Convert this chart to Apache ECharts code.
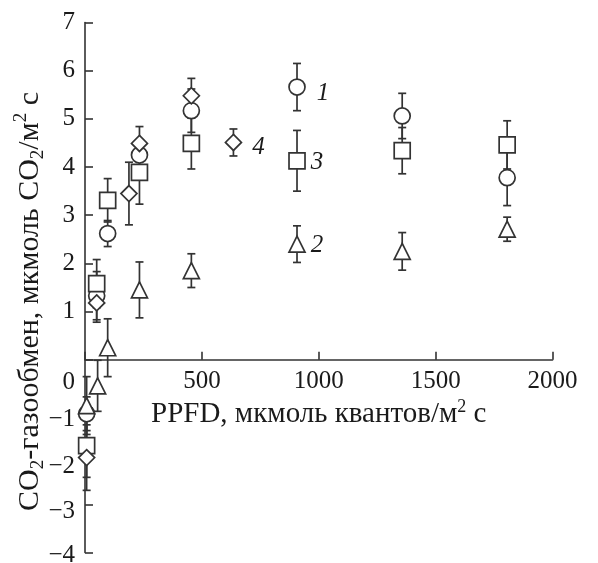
<!DOCTYPE html>
<html>
<head>
<meta charset="utf-8">
<script src="https://cdn.jsdelivr.net/npm/echarts@6/dist/echarts.min.js"></script>
<style>
html,body{margin:0;padding:0;background:#fff;}
#chart{width:598px;height:563px;}
</style>
</head>
<body>
<div id="chart"></div>
<script>
// ---- data ----
// series 1 (circles)
const s1X = [7, 50, 97, 233, 455, 907, 1357, 1806];
const s1Y = [-1.12, 1.33, 2.62, 4.25, 5.17, 5.66, 5.06, 3.78];
const s1E = [0.35, 0.5, 0.27, 0.3, 0.45, 0.49, 0.47, 0.58];
// series 2 (triangles)
const s2X = [7, 54, 97, 233, 455, 907, 1357, 1806];
const s2Y = [-0.95, -0.54, 0.25, 1.45, 1.85, 2.40, 2.25, 2.71];
const s2E = [0.6, 0.53, 0.6, 0.58, 0.35, 0.38, 0.39, 0.25];
// series 3 (squares)
const s3X = [7, 50, 97, 233, 455, 907, 1357, 1806];
const s3Y = [-1.78, 1.58, 3.31, 3.89, 4.49, 4.13, 4.34, 4.46];
const s3E = [0.66, 0.5, 0.45, 0.66, 0.53, 0.63, 0.48, 0.5];
// series 4 (diamonds)
const s4X = [7, 50, 188, 233, 455, 635];
const s4Y = [-2.03, 1.18, 3.45, 4.49, 5.48, 4.51];
const s4E = [0.68, 0.4, 0.65, 0.35, 0.36, 0.28];

const seriesNames = ['1', '2', '3', '4'];
const seriesSymbols = ['circle', 'triangle', 'rect', 'diamond'];
// x value of the point next to which each series number is written
const labelAtX = [907, 907, 907, 635];

const xTicks = [0, 500, 1000, 1500, 2000];
const yTicks = [-4, -3, -2, -1, 0, 1, 2, 3, 4, 5, 6, 7];

// ---- styling ----
const INK = '#333';
const TXT = '#1a1a1a';
const FONT = '"Liberation Serif", "Times New Roman", "DejaVu Serif", serif';
const FS = 25;
const FSX = 29;  // x axis title
const FSY = 30;  // y axis title

const W = 598, H = 563;
const G = {left: 85, right: 45.5, top: 22.5, bottom: 10.5};
const yMin = yTicks[0], yMax = yTicks[yTicks.length - 1];
// the x axis sits where y = 0 : bottom edge of a helper grid
const zeroFromBottom = G.bottom + (0 - yMin) / (yMax - yMin) * (H - G.top - G.bottom);

const all = [
  [s1X, s1Y, s1E], [s2X, s2Y, s2E], [s3X, s3Y, s3E], [s4X, s4Y, s4E]
];
const labelStyle = [
  {distance: 11, offset: [0, 6]},
  {distance: 5, offset: [0, 1]},
  {distance: 5, offset: [0, 2]},
  {distance: 10, offset: [0, 5]}
];

const series = [];
all.forEach(function (s, i) {
  const xs = s[0], ys = s[1], es = s[2];
  const errData = xs.map(function (x, k) { return [x, ys[k] - es[k], ys[k] + es[k]]; });
  series.push({
    type: 'custom',
    name: 'err' + seriesNames[i],
    z: 2,
    silent: true,
    data: errData,
    encode: {x: 0, y: [1, 2]},
    renderItem: function (params, api) {
      const x = api.value(0);
      const lo = api.coord([x, api.value(1)]);
      const hi = api.coord([x, api.value(2)]);
      const w = 4;
      const st = {stroke: INK, lineWidth: 1.7};
      return {
        type: 'group',
        children: [
          {type: 'line', shape: {x1: lo[0], y1: lo[1], x2: hi[0], y2: hi[1]}, style: st},
          {type: 'line', shape: {x1: lo[0] - w, y1: lo[1], x2: lo[0] + w, y2: lo[1]}, style: st},
          {type: 'line', shape: {x1: hi[0] - w, y1: hi[1], x2: hi[0] + w, y2: hi[1]}, style: st}
        ]
      };
    }
  });
  const pts = xs.map(function (x, k) {
    const item = {value: [x, ys[k]]};
    if (x === labelAtX[i]) {
      item.label = {
        show: true,
        formatter: seriesNames[i],
        position: 'right',
        distance: labelStyle[i].distance,
        offset: labelStyle[i].offset,
        fontFamily: FONT,
        fontStyle: 'italic',
        fontSize: FS,
        color: TXT
      };
    }
    return item;
  });
  series.push({
    type: 'scatter',
    name: seriesNames[i],
    z: 3,
    symbol: seriesSymbols[i],
    symbolSize: 16,
    itemStyle: {color: '#fff', borderColor: INK, borderWidth: 1.7, opacity: 1},
    data: pts
  });
});

const chart = echarts.init(document.getElementById('chart'), null, {renderer: 'canvas'});
chart.setOption({
  animation: false,
  backgroundColor: '#fff',
  grid: [
    {left: G.left, right: G.right, top: G.top, bottom: G.bottom, containLabel: false, outerBoundsMode: 'none'},
    {left: G.left, right: G.right, top: G.top, bottom: zeroFromBottom, containLabel: false, outerBoundsMode: 'none'}
  ],
  xAxis: [{
    gridIndex: 0,
    type: 'value',
    min: xTicks[0], max: xTicks[xTicks.length - 1], interval: 500,
    splitLine: {show: false},
    axisLine: {show: false},
    axisTick: {show: false},
    axisLabel: {show: false}
  }, {
    gridIndex: 1,
    type: 'value',
    position: 'bottom',
    min: xTicks[0], max: xTicks[xTicks.length - 1], interval: 500,
    splitLine: {show: false},
    axisLine: {onZero: false, lineStyle: {color: INK, width: 1.6}},
    axisTick: {inside: true, length: 8, lineStyle: {color: INK, width: 1.6}},
    axisLabel: {
      margin: 9, fontFamily: FONT, fontSize: FS, color: TXT,
      formatter: function (v) { return v === 0 ? '' : String(v); }
    },
    name: '{a|PPFD, мкмоль квантов/м}{sup|2}{a| с}',
    nameLocation: 'middle',
    nameGap: 38,
    nameMoveOverlap: false,
    nameTextStyle: {
      rich: {
        a: {fontFamily: FONT, fontSize: FSX, color: TXT, lineHeight: 34},
        sup: {fontFamily: FONT, fontSize: 18, color: TXT, verticalAlign: 'top', lineHeight: 20}
      }
    }
  }],
  yAxis: [{
    gridIndex: 0,
    type: 'value',
    min: yMin, max: yMax, interval: 1,
    splitLine: {show: false},
    axisLine: {lineStyle: {color: INK, width: 1.6}},
    axisTick: {inside: true, length: 8, lineStyle: {color: INK, width: 1.6}},
    axisLabel: {
      margin: 10, fontFamily: FONT, fontSize: FS, color: TXT,
      formatter: function (v) {
        if (v === 0) return '{z|0}';
        if (v < 0) return '{n' + (-v) + '|\u2212' + (-v) + '}';
        return String(v);
      },
      rich: {
        z: {fontFamily: FONT, fontSize: FS, color: TXT, padding: [46, 0, 0, 0]},
        n1: {fontFamily: FONT, fontSize: FS, color: TXT, padding: [22, 0, 0, 0]},
        n2: {fontFamily: FONT, fontSize: FS, color: TXT, padding: [20, 0, 0, 0]},
        n3: {fontFamily: FONT, fontSize: FS, color: TXT, padding: [14, 0, 0, 0]},
        n4: {fontFamily: FONT, fontSize: FS, color: TXT, padding: [6, 0, 0, 0]}
      }
    },
    name: '{a|CO}{sub|2}{a|-газообмен, мкмоль CO}{sub|2}{a|/м}{sup|2}{a| с}',
    nameLocation: 'middle',
    nameGap: 37,
    nameMoveOverlap: false,
    nameTextStyle: {
      padding: [0, 28, 0, 0],
      rich: {
        a: {fontFamily: FONT, fontSize: FSY, color: TXT, lineHeight: 36},
        sub: {fontFamily: FONT, fontSize: 19, color: TXT, verticalAlign: 'bottom', lineHeight: 21},
        sup: {fontFamily: FONT, fontSize: 19, color: TXT, verticalAlign: 'top', lineHeight: 21}
      }
    }
  }, {
    gridIndex: 1,
    type: 'value',
    min: 0, max: yMax,
    show: false
  }],
  series: series
});
</script>
</body>
</html>
